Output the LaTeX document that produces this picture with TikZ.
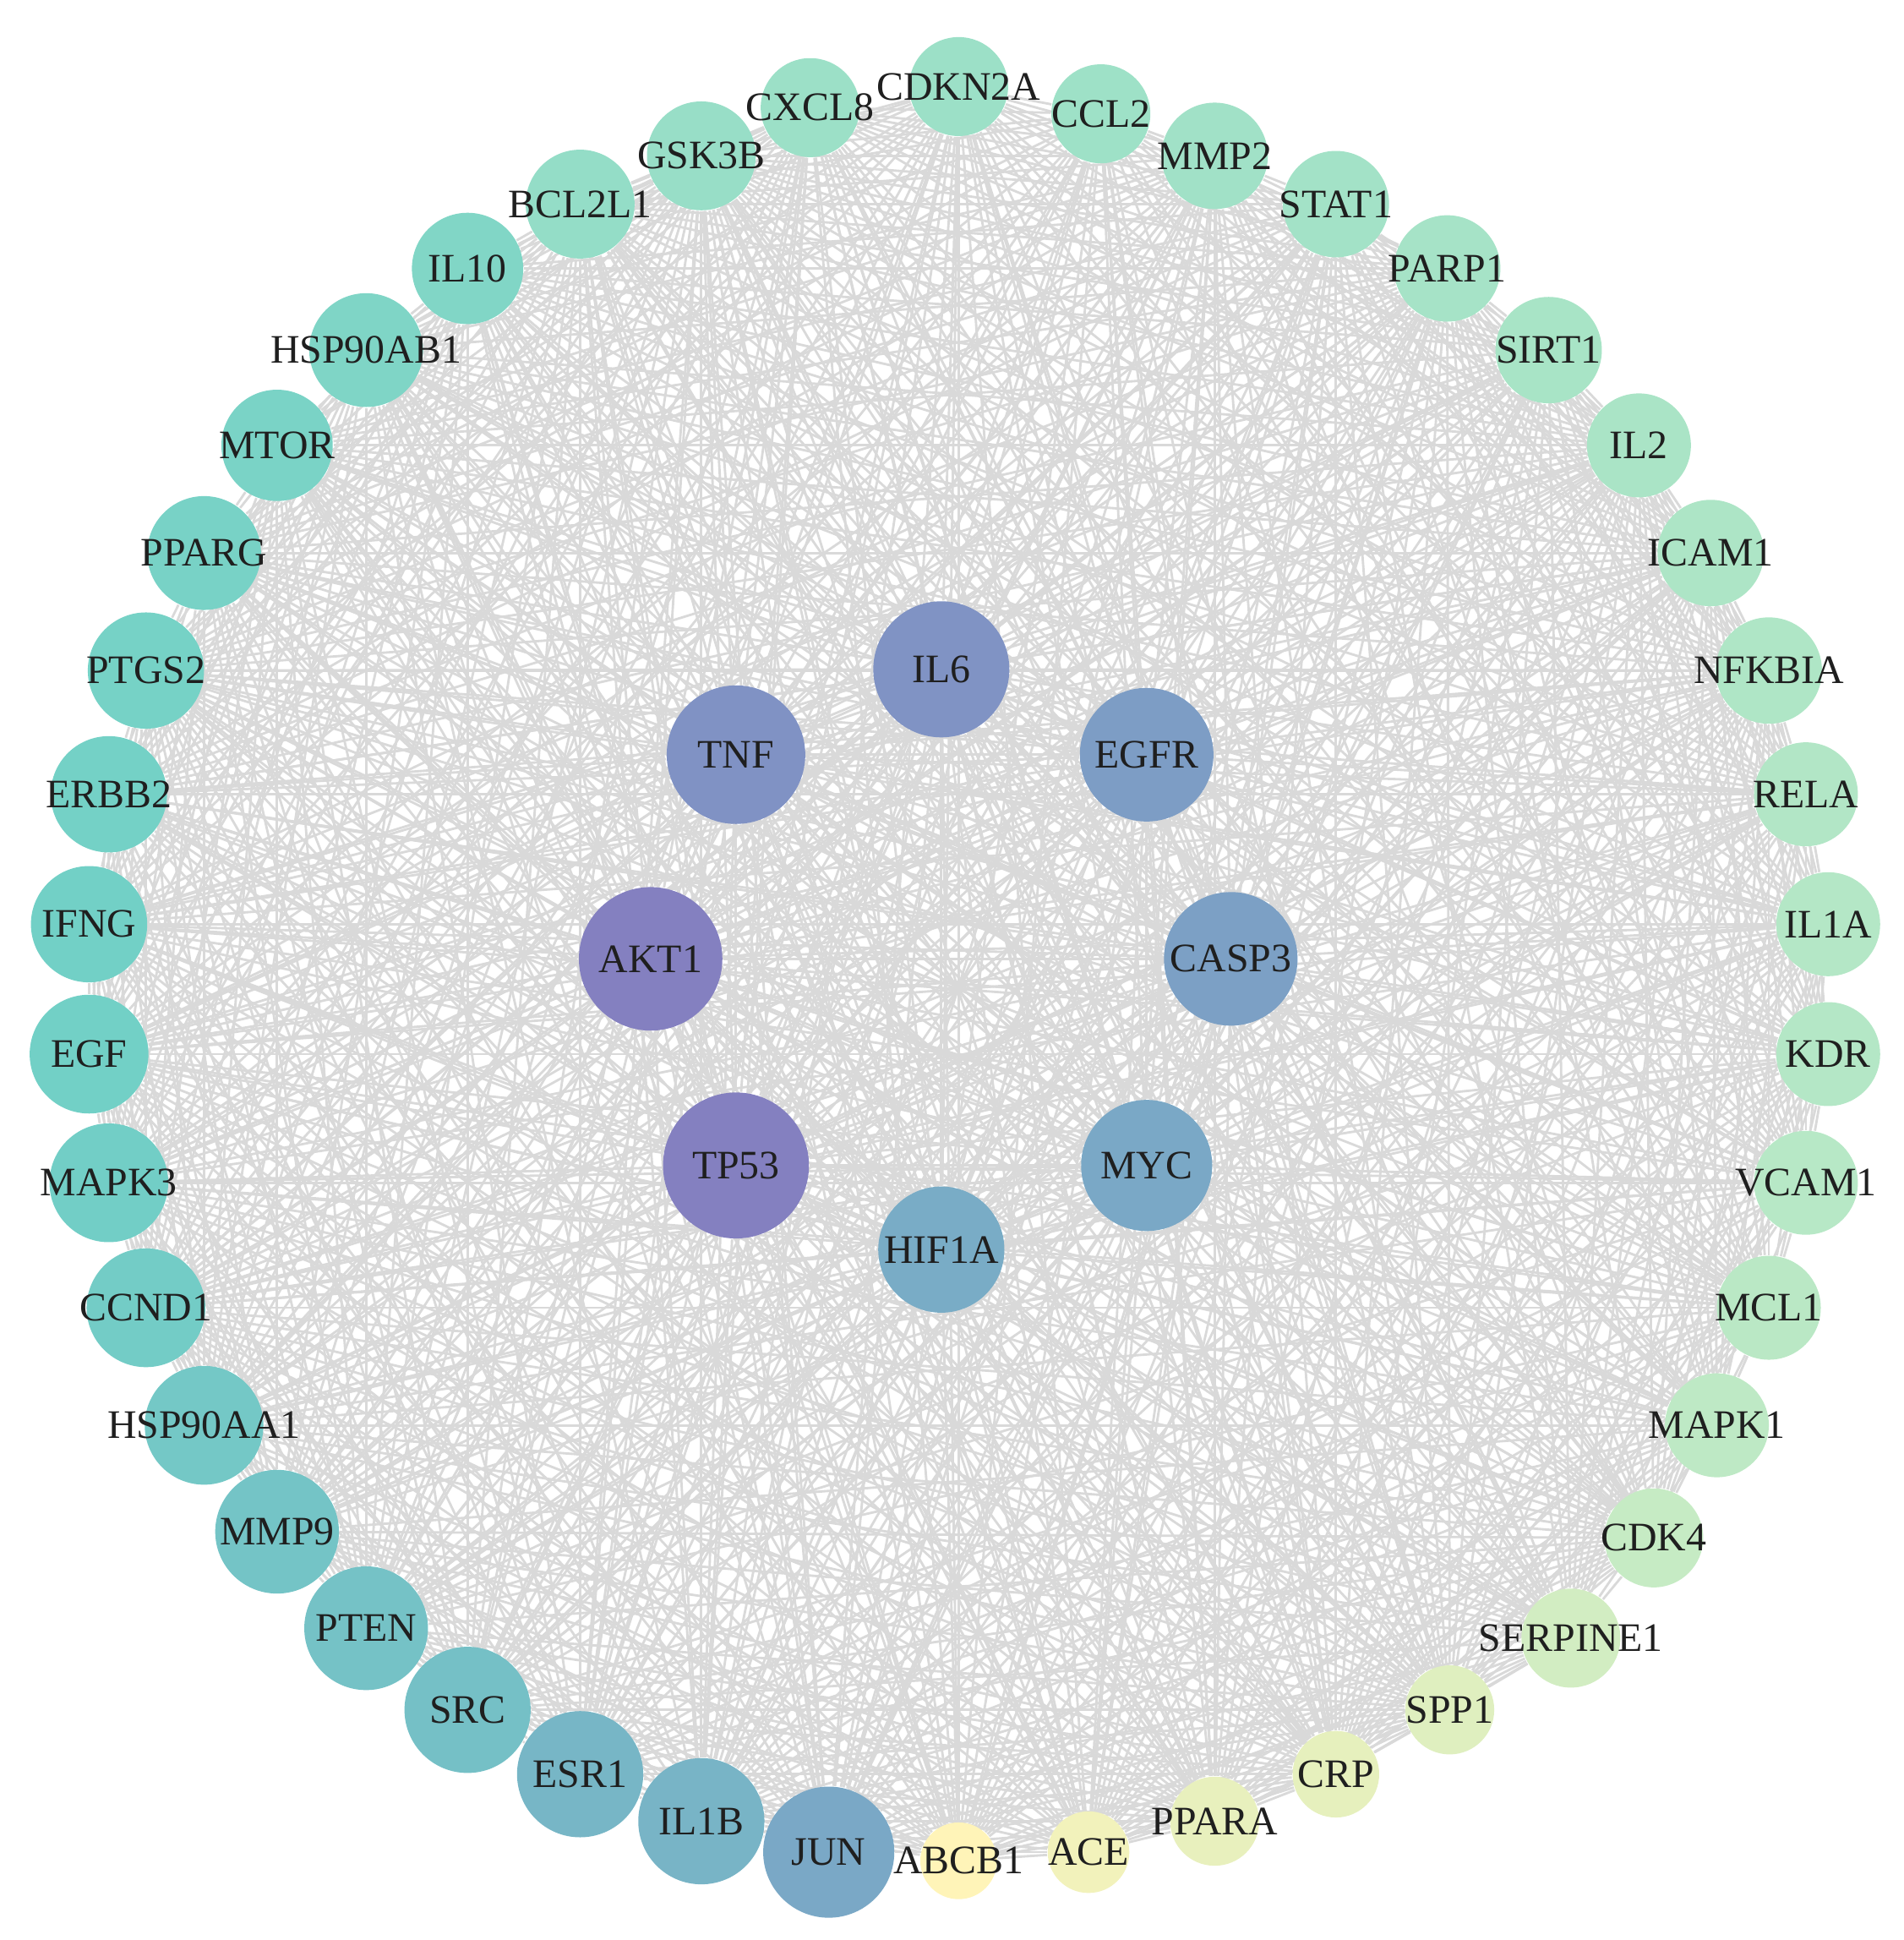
\documentclass[tikz,border=0pt]{standalone}
\usepackage{fontspec}
\setmainfont{Liberation Serif}
\usetikzlibrary{backgrounds}

\definecolor{gMint}{HTML}{9CE0C7}
\definecolor{gPale}{HTML}{B4E7C6}
\definecolor{gLime}{HTML}{D2EDC2}
\definecolor{gLemon}{HTML}{FFF4B8}
\definecolor{gTeal}{HTML}{72D0C6}
\definecolor{gSteel}{HTML}{7AA8C6}
\definecolor{gBlue}{HTML}{8093C4}
\definecolor{gViolet}{HTML}{8480C0}
\definecolor{edgegray}{HTML}{D9D9D9}

\tikzset{
    gene/.style={circle, inner sep=0pt, text=black!88, font=\fontsize{9.3}{11}\selectfont},
    link/.style={edgegray, line width=0.55pt},
}

\newcommand{\genelist}{IL6,TNF,EGFR,AKT1,CASP3,TP53,MYC,HIF1A,%
CDKN2A,CCL2,MMP2,STAT1,PARP1,SIRT1,IL2,ICAM1,NFKBIA,RELA,IL1A,KDR,VCAM1,MCL1,MAPK1,%
CDK4,SERPINE1,SPP1,CRP,PPARA,ACE,ABCB1,JUN,IL1B,ESR1,SRC,PTEN,MMP9,HSP90AA1,CCND1,%
MAPK3,EGF,IFNG,ERBB2,PTGS2,PPARG,MTOR,HSP90AB1,IL10,BCL2L1,GSK3B,CXCL8}

\begin{document}
\begin{tikzpicture}
    \useasboundingbox (0,0) rectangle (15.39,15.68);

    % 内圈节点
    \foreach \name/\x/\y/\dia/\col in {
        IL6/7.61/10.27/1.10/gBlue,
        TNF/5.95/9.58/1.12/gBlue!95!gViolet,
        EGFR/9.27/9.58/1.08/gBlue!50!gSteel,
        AKT1/5.26/7.93/1.16/gViolet,
        CASP3/9.95/7.93/1.08/gBlue!40!gSteel,
        TP53/5.95/6.26/1.18/gViolet,
        MYC/9.27/6.26/1.06/gSteel,
        HIF1A/7.61/5.58/1.02/gSteel!90!gTeal}
        \node [gene, minimum size=\dia cm, fill=\col] (\name) at (\x,\y) {\makebox[0pt]{\name}};

    % 外圈节点
    \foreach \name/\x/\y/\dia/\col in {
        CDKN2A/7.75/14.98/0.80/gMint,
        CCL2/8.90/14.76/0.80/gMint!90!gPale,
        MMP2/9.82/14.42/0.86/gMint!80!gPale,
        STAT1/10.80/14.03/0.86/gMint!70!gPale,
        PARP1/11.70/13.51/0.86/gMint!60!gPale,
        SIRT1/12.52/12.85/0.86/gMint!50!gPale,
        IL2/13.25/12.08/0.84/gMint!40!gPale,
        ICAM1/13.83/11.21/0.86/gMint!30!gPale,
        NFKBIA/14.30/10.26/0.86/gMint!20!gPale,
        RELA/14.60/9.26/0.84/gMint!10!gPale,
        IL1A/14.78/8.21/0.84/gPale,
        KDR/14.78/7.16/0.84/gPale,
        VCAM1/14.60/6.12/0.84/gPale!90!gLime,
        MCL1/14.30/5.11/0.84/gPale!80!gLime,
        MAPK1/13.88/4.16/0.84/gPale!65!gLime,
        CDK4/13.37/3.25/0.80/gPale!40!gLime,
        SERPINE1/12.70/2.44/0.80/gLime,
        SPP1/11.72/1.86/0.72/gLime!70!gLemon,
        CRP/10.80/1.34/0.70/gLime!55!gLemon,
        PPARA/9.82/0.96/0.72/gLime!50!gLemon,
        ACE/8.80/0.71/0.66/gLime!30!gLemon,
        ABCB1/7.75/0.64/0.62/gLemon,
        JUN/6.70/0.71/1.06/gSteel,
        IL1B/5.67/0.96/1.02/gSteel!70!gTeal,
        ESR1/4.69/1.34/1.02/gSteel!65!gTeal,
        SRC/3.78/1.86/1.02/gSteel!40!gTeal,
        PTEN/2.96/2.52/1.00/gSteel!35!gTeal,
        MMP9/2.24/3.30/1.00/gSteel!30!gTeal,
        HSP90AA1/1.65/4.16/0.96/gSteel!20!gTeal,
        CCND1/1.18/5.11/0.96/gSteel!10!gTeal,
        MAPK3/0.88/6.12/0.96/gSteel!5!gTeal,
        EGF/0.72/7.16/0.96/gTeal,
        IFNG/0.72/8.21/0.94/gTeal,
        ERBB2/0.88/9.26/0.94/gTeal!95!gMint,
        PTGS2/1.18/10.26/0.94/gTeal!90!gMint,
        PPARG/1.65/11.21/0.92/gTeal!85!gMint,
        MTOR/2.24/12.08/0.90/gTeal!80!gMint,
        HSP90AB1/2.96/12.85/0.92/gTeal!70!gMint,
        IL10/3.78/13.51/0.90/gTeal!65!gMint,
        BCL2L1/4.69/14.03/0.88/gTeal!20!gMint,
        GSK3B/5.67/14.42/0.88/gTeal!10!gMint,
        CXCL8/6.55/14.81/0.80/gMint}
        \node [gene, minimum size=\dia cm, fill=\col] (\name) at (\x,\y) {\makebox[0pt]{\name}};

    % 互作连线
    \begin{pgfonlayer}{background}
        \foreach \ga [count=\i] in \genelist {
            \foreach \gb [count=\j] in \genelist {
                \ifnum\j>\i
                    \pgfmathtruncatemacro{\keep}{or(\i<9, mod(mod(\i*\i,11)*\j+\j*\j+3*\i,11)<9)}
                    \ifnum\keep=1 \draw [link] (\ga) -- (\gb); \fi
                \fi
            }
        }
    \end{pgfonlayer}

\end{tikzpicture}
\end{document}
